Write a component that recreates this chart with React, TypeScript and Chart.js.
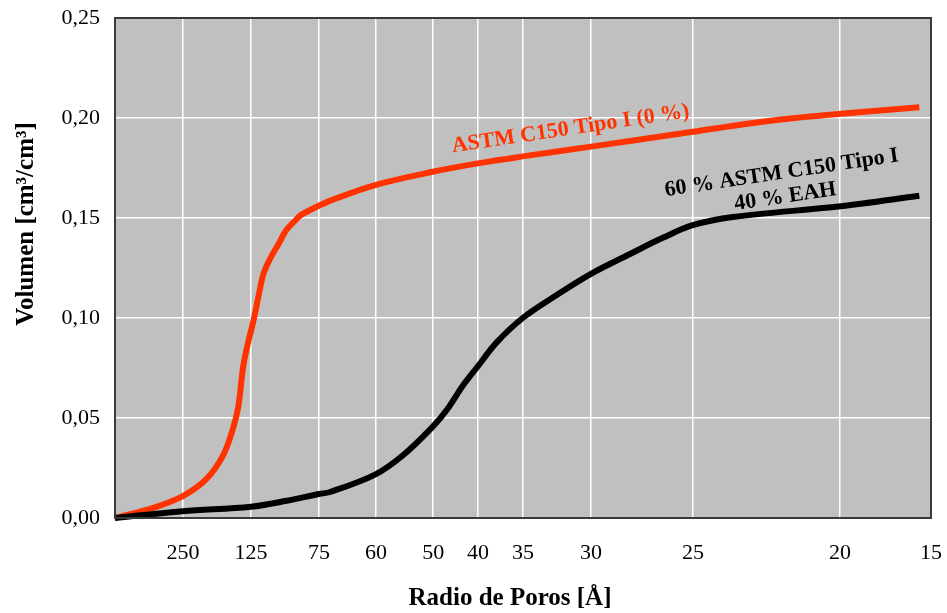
import React, { useEffect, useRef } from "react";
import { Chart, registerables } from "chart.js";

Chart.register(...registerables);

// X axis: positions (axis units) of the labelled pore radii, and their labels
const xTickPositions = [1, 2, 3, 3.84, 4.68, 5.34, 6, 7, 8.5, 10.66, 12];
const xTickLabels = ["250", "125", "75", "60", "50", "40", "35", "30", "25", "20", "15"];

// Series: ASTM C150 Tipo I (0 %)
const redX = [0, 0.563, 1.004, 1.349, 1.593, 1.74, 1.813, 1.887, 1.96, 2.034, 2.107, 2.181, 2.279, 2.401, 2.525, 2.672, 2.721, 2.966, 3.206, 3.838, 4.672, 5.334, 5.996, 7.0, 8.496, 9.584, 10.672, 11.828];
const redY = [0, 0.0051, 0.0111, 0.0197, 0.0316, 0.0453, 0.0556, 0.0761, 0.0881, 0.0983, 0.1103, 0.1218, 0.1295, 0.1368, 0.1442, 0.1495, 0.1512, 0.1556, 0.1592, 0.1666, 0.1731, 0.1773, 0.1808, 0.1857, 0.1931, 0.1984, 0.2021, 0.2054];

// Series: 60 % ASTM C150 Tipo I / 40 % EAH
const blackX = [0, 0.996, 2.0, 2.525, 3.0, 3.162, 3.824, 4.24, 4.666, 4.878, 5.122, 5.328, 5.613, 5.996, 6.496, 7.0, 7.574, 8.063, 8.496, 9.088, 10.672, 11.828];
const blackY = [0, 0.0034, 0.0056, 0.0086, 0.012, 0.013, 0.0217, 0.0315, 0.0454, 0.054, 0.0665, 0.0755, 0.0878, 0.1, 0.1115, 0.1221, 0.132, 0.1402, 0.1464, 0.1505, 0.1559, 0.1611];

const yMin = 0;
const yMax = 0.25;
const yStep = 0.05;

const RED = "#FF3300";
const FONT = '"Liberation Serif", "Times New Roman", serif';

const decorPlugin = {
  id: "decor",
  beforeDraw(chart: any) {
    const { ctx, chartArea } = chart;
    ctx.save();
    ctx.fillStyle = "#C0C0C0";
    ctx.fillRect(chartArea.left, chartArea.top, chartArea.right - chartArea.left, chartArea.bottom - chartArea.top);
    ctx.restore();
  },
  afterDraw(chart: any) {
    const { ctx, chartArea, scales } = chart;
    ctx.save();
    // plot border
    ctx.strokeStyle = "#3a3a3a";
    ctx.lineWidth = 2;
    ctx.strokeRect(chartArea.left, chartArea.top, chartArea.right - chartArea.left, chartArea.bottom - chartArea.top);

    const ang = (-8.5 * Math.PI) / 180;
    // red annotation
    ctx.save();
    ctx.translate(scales.x.getPixelForValue(6.7), scales.y.getPixelForValue(0.1945));
    ctx.rotate(ang);
    ctx.font = `bold 22px ${FONT}`;
    ctx.fillStyle = RED;
    ctx.textAlign = "center";
    ctx.textBaseline = "middle";
    ctx.fillText("ASTM C150 Tipo I (0 %)", 0, 0);
    ctx.restore();

    // black annotation
    ctx.save();
    ctx.translate(scales.x.getPixelForValue(9.83), scales.y.getPixelForValue(0.1665));
    ctx.rotate(ang);
    ctx.font = `bold 22px ${FONT}`;
    ctx.fillStyle = "#000";
    ctx.textAlign = "center";
    ctx.textBaseline = "middle";
    ctx.fillText("60 % ASTM C150 Tipo I", 0, -12);
    ctx.fillText("40 % EAH", 0, 12);
    ctx.restore();

    // axis titles
    ctx.fillStyle = "#000";
    ctx.font = `bold 25px ${FONT}`;
    ctx.textAlign = "center";
    ctx.textBaseline = "alphabetic";
    ctx.fillText("Radio de Poros [Å]", 510, 605);
    ctx.save();
    ctx.translate(33, 224);
    ctx.rotate(-Math.PI / 2);
    ctx.fillText("Volumen [cm³/cm³]", 0, 0);
    ctx.restore();

    ctx.restore();
  },
};

export default function App() {
  const canvasRef = useRef<HTMLCanvasElement | null>(null);

  useEffect(() => {
    if (!canvasRef.current) return;
    const chart = new Chart(canvasRef.current, {
      type: "line",
      data: {
        datasets: [
          {
            label: "60 % ASTM C150 Tipo I / 40 % EAH",
            data: blackX.map((x, i) => ({ x, y: blackY[i] })),
            borderColor: "#000000",
            borderWidth: 6,
            pointRadius: 0,
            tension: 0.35,
            fill: false,
            clip: 5,
          },
          {
            label: "ASTM C150 Tipo I (0 %)",
            data: redX.map((x, i) => ({ x, y: redY[i] })),
            borderColor: RED,
            borderWidth: 6,
            pointRadius: 0,
            tension: 0.35,
            fill: false,
            clip: 5,
          },
        ],
      },
      options: {
        animation: false,
        responsive: false,
        maintainAspectRatio: false,
        layout: { padding: { top: 18, right: 16, left: 0, bottom: 0 } },
        plugins: { legend: { display: false }, tooltip: { enabled: false } },
        scales: {
          x: {
            type: "linear",
            min: 0,
            max: 12,
            afterBuildTicks: (scale: any) => {
              scale.ticks = xTickPositions.map((v) => ({ value: v }));
            },
            afterFit: (scale: any) => {
              scale.height = 95;
              scale.paddingLeft = 0;
              scale.paddingRight = 0;
            },
            ticks: {
              autoSkip: false,
              maxRotation: 0,
              padding: 22,
              color: "#000",
              font: { family: FONT, size: 22 },
              callback: (value: any) => {
                const idx = xTickPositions.indexOf(Number(value));
                return idx >= 0 ? xTickLabels[idx] : "";
              },
            },
            grid: { color: "#ffffff", lineWidth: 1.5, drawTicks: false },
            border: { display: false },
          },
          y: {
            type: "linear",
            min: yMin,
            max: yMax,
            afterFit: (scale: any) => {
              scale.width = 115;
              scale.paddingTop = 0;
              scale.paddingBottom = 0;
            },
            ticks: {
              stepSize: yStep,
              padding: 15,
              color: "#000",
              font: { family: FONT, size: 22 },
              callback: (value: any) => Number(value).toFixed(2).replace(".", ","),
            },
            grid: { color: "#ffffff", lineWidth: 1.5, drawTicks: false },
            border: { display: false },
          },
        },
      },
      plugins: [decorPlugin],
    });
    return () => chart.destroy();
  }, []);

  return (
    <div style={{ position: "absolute", left: 0, top: 0, width: 947, height: 613, background: "#fff" }}>
      <canvas ref={canvasRef} width={947} height={613} />
    </div>
  );
}
